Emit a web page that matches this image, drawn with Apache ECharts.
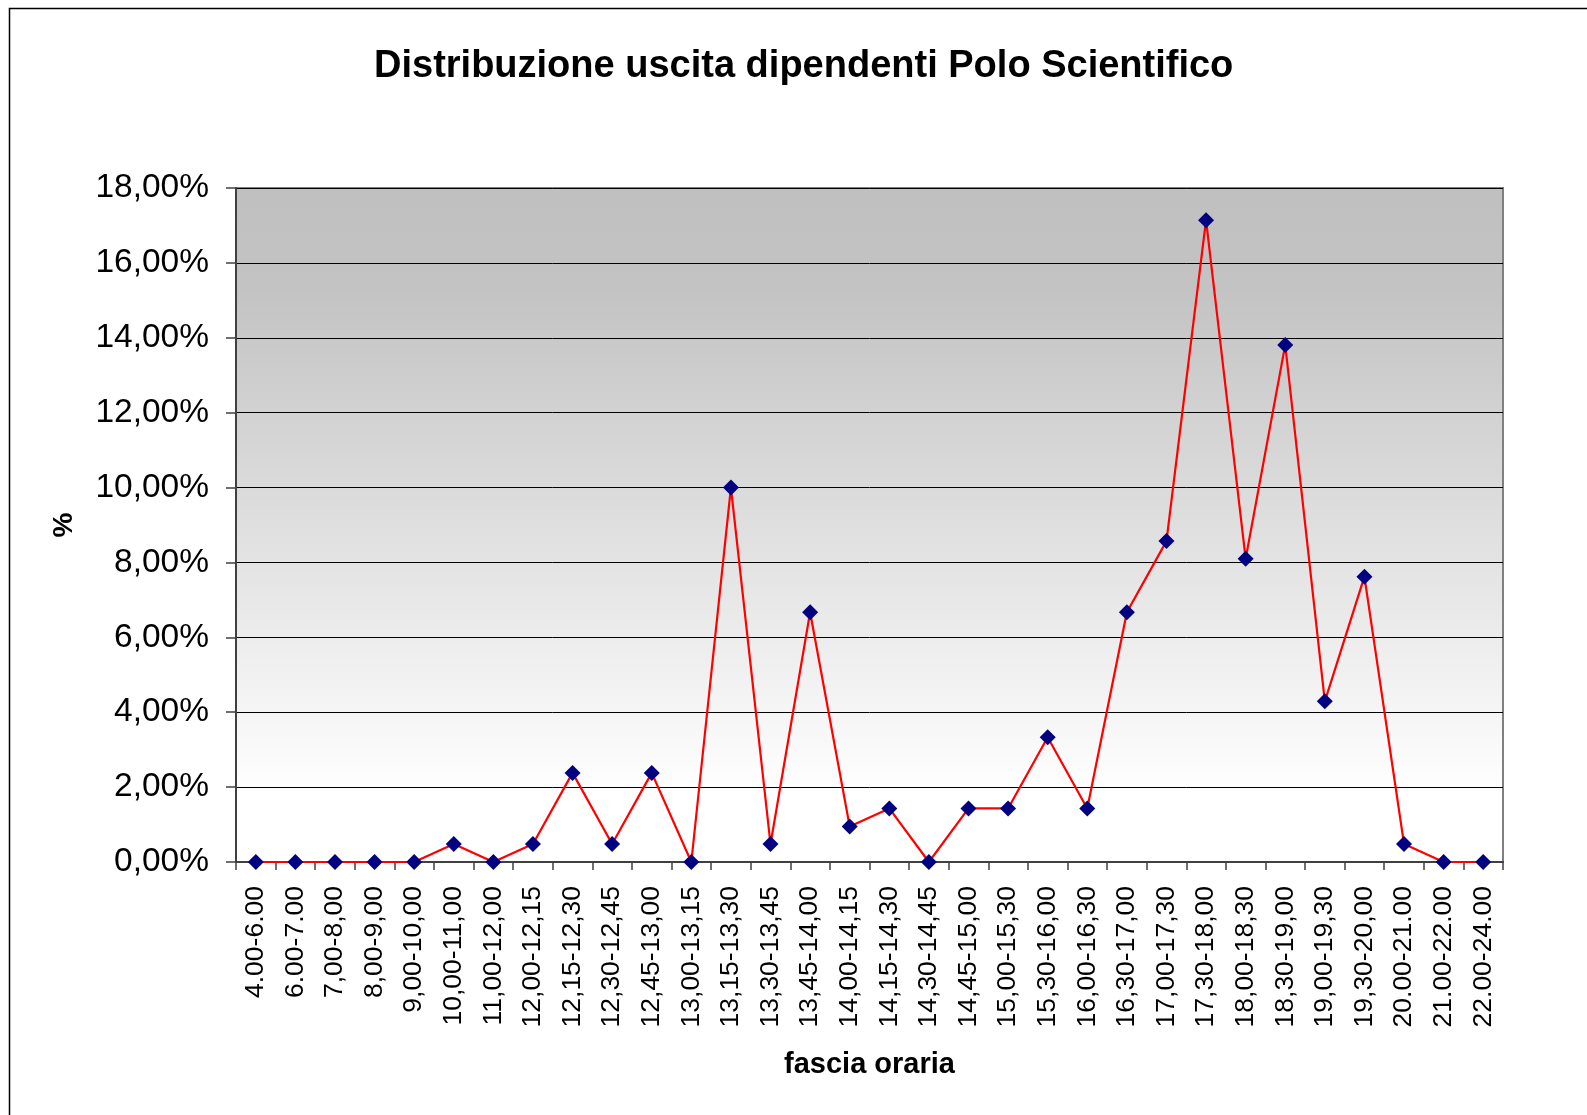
<!DOCTYPE html>
<html>
<head>
<meta charset="utf-8">
<script src="https://cdn.jsdelivr.net/npm/echarts@6/dist/echarts.min.js"></script>
<style>
  html, body { margin: 0; padding: 0; background: #fff; }
  #chart { width: 1587px; height: 1115px; }
</style>
</head>
<body>
<div id="chart"></div>
<script>
  // fasce orarie
  var categories = ['4.00-6.00', '6.00-7.00', '7,00-8,00', '8,00-9,00', '9,00-10,00', '10,00-11,00',
    '11,00-12,00', '12,00-12,15', '12,15-12,30', '12,30-12,45', '12,45-13,00', '13,00-13,15',
    '13,15-13,30', '13,30-13,45', '13,45-14,00', '14,00-14,15', '14,15-14,30', '14,30-14,45',
    '14,45-15,00', '15,00-15,30', '15,30-16,00', '16,00-16,30', '16,30-17,00', '17,00-17,30',
    '17,30-18,00', '18,00-18,30', '18,30-19,00', '19,00-19,30', '19,30-20,00', '20.00-21.00',
    '21.00-22.00', '22.00-24.00']
  // percentuali uscita
  var values = [0, 0, 0, 0, 0, 0.48, 0, 0.48, 2.38, 0.48, 2.38, 0, 10.00, 0.48, 6.67, 0.95,
    1.43, 0, 1.43, 1.43, 3.33, 1.43, 6.67, 8.57, 17.14, 8.10, 13.81, 4.29, 7.62, 0.48, 0, 0]

  var chart = echarts.init(document.getElementById('chart'))
  var font = 'Liberation Sans, Arial, sans-serif'

  var option = {
    animation: false,
    backgroundColor: '#fff',
    title: {
      text: 'Distribuzione uscita dipendenti Polo Scientifico',
      left: 374,
      top: 48,
      padding: 0,
      textStyle: { fontFamily: font, fontSize: 38, fontWeight: 'bold', color: '#000' }
    },
    graphic: [
      {
        type: 'rect',
        shape: { x: 9.5, y: 8.5, width: 1700, height: 1200 },
        style: { fill: 'none', stroke: '#000', lineWidth: 1.5 },
        silent: true
      }
    ],
    grid: {
      left: 236,
      right: 84,
      top: 188,
      bottom: 253,
      show: true,
      borderColor: '#808080',
      borderWidth: 2,
      backgroundColor: {
        type: 'linear', x: 0, y: 0, x2: 0, y2: 1,
        colorStops: [
          { offset: 0, color: '#c0c0c0' },
          { offset: 0.15, color: '#c3c3c3' },
          { offset: 0.9, color: '#ffffff' },
          { offset: 1, color: '#ffffff' }
        ]
      }
    },
    xAxis: {
      type: 'category',
      data: categories,
      boundaryGap: true,
      name: 'fascia oraria',
      nameLocation: 'middle',
      nameGap: 188,
      nameTextStyle: { fontFamily: font, fontSize: 29, fontWeight: 'bold', color: '#000' },
      axisLine: { lineStyle: { color: '#404040', width: 2 } },
      axisTick: { show: true, length: 8, lineStyle: { color: '#404040', width: 1.5 } },
      axisLabel: {
        rotate: 90,
        interval: 0,
        margin: 24,
        fontFamily: font,
        fontSize: 26.5,
        color: '#000'
      }
    },
    yAxis: {
      type: 'value',
      min: 0,
      max: 18,
      interval: 2,
      name: '%',
      nameLocation: 'middle',
      nameGap: 158,
      nameRotate: 90,
      nameTextStyle: { fontFamily: font, fontSize: 28, fontWeight: 'bold', color: '#000' },
      axisLine: { show: true, lineStyle: { color: '#404040', width: 2 } },
      axisTick: { show: true, length: 10, lineStyle: { color: '#404040', width: 1.5 } },
      splitLine: { show: true, lineStyle: { color: '#000', width: 1 } },
      axisLabel: {
        margin: 27,
        fontFamily: font,
        fontSize: 33.5,
        color: '#000',
        formatter: function (v) { return v.toFixed(2).replace('.', ',') + '%' }
      }
    },
    series: [
      {
        name: '%',
        type: 'line',
        data: values,
        symbol: 'diamond',
        symbolSize: 16,
        itemStyle: { color: '#000080' },
        lineStyle: { color: '#ff0000', width: 2.2 },
        z: 5
      }
    ]
  }

  chart.setOption(option)
</script>
</body>
</html>
